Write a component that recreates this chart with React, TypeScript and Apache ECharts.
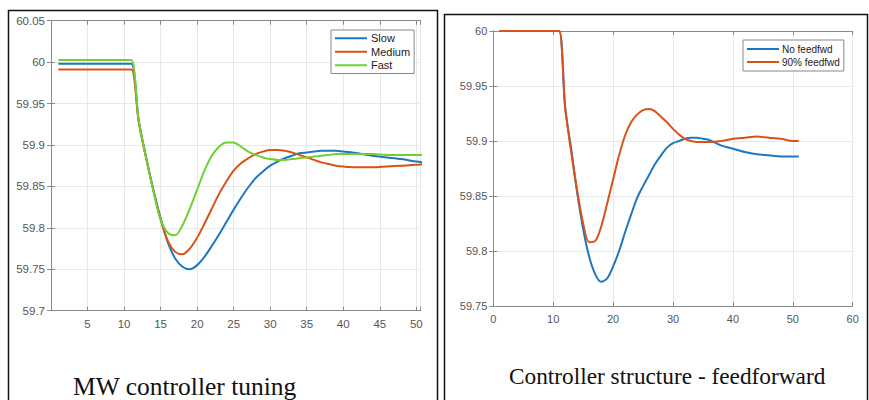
import React, { useEffect, useRef } from "react";
import * as echarts from "echarts";

// ---- Left panel: MW controller tuning ----
const xLeft = [1, 5, 10, 11, 12, 13, 14, 15, 16, 17, 18, 19, 20, 21, 22, 23, 24, 25, 26, 27, 28, 29, 30, 31, 32, 33, 34, 35, 36, 37, 38, 39, 40, 42, 44, 46, 48, 50, 51];
const slow = [59.998, 59.998, 59.998, 59.998, 59.93, 59.886, 59.846, 59.812, 59.782, 59.763, 59.753, 59.75, 59.755, 59.765, 59.778, 59.792, 59.807, 59.822, 59.836, 59.849, 59.86, 59.868, 59.875, 59.88, 59.884, 59.887, 59.89, 59.891, 59.892, 59.893, 59.893, 59.893, 59.892, 59.89, 59.887, 59.885, 59.883, 59.88, 59.879];
const medium = [59.991, 59.991, 59.991, 59.991, 59.928, 59.885, 59.846, 59.81, 59.784, 59.771, 59.768, 59.775, 59.788, 59.805, 59.823, 59.841, 59.856, 59.869, 59.878, 59.884, 59.889, 59.892, 59.894, 59.894, 59.893, 59.891, 59.888, 59.885, 59.882, 59.879, 59.877, 59.875, 59.874, 59.873, 59.873, 59.874, 59.875, 59.876, 59.877];
const fast = [60.0025, 60.0025, 60.0025, 60.0025, 59.93, 59.885, 59.845, 59.81, 59.794, 59.791, 59.803, 59.823, 59.846, 59.869, 59.887, 59.898, 59.903, 59.903, 59.898, 59.892, 59.888, 59.885, 59.883, 59.882, 59.882, 59.883, 59.884, 59.885, 59.886, 59.887, 59.888, 59.889, 59.889, 59.889, 59.889, 59.888, 59.888, 59.888, 59.888];

// ---- Right panel: Controller structure - feedforward ----
const xRight = [1, 5, 10, 11, 12, 13, 14, 15, 16, 17, 18, 19, 20, 21, 22, 23, 24, 25, 26, 27, 28, 29, 30, 31, 32, 33, 34, 35, 36, 38, 40, 42, 44, 46, 48, 50, 51];
const noFeedfwd = [60, 60, 60, 60, 59.93, 59.893, 59.853, 59.82, 59.795, 59.779, 59.772, 59.775, 59.786, 59.8, 59.817, 59.833, 59.848, 59.859, 59.869, 59.879, 59.887, 59.894, 59.898, 59.9, 59.902, 59.903, 59.903, 59.902, 59.901, 59.896, 59.893, 59.89, 59.888, 59.887, 59.886, 59.886, 59.886];
const feedfwd90 = [60, 60, 60, 60, 59.931, 59.89, 59.855, 59.825, 59.808, 59.809, 59.822, 59.843, 59.865, 59.887, 59.905, 59.917, 59.924, 59.928, 59.929, 59.927, 59.922, 59.917, 59.911, 59.906, 59.902, 59.9, 59.899, 59.899, 59.899, 59.9, 59.902, 59.903, 59.904, 59.903, 59.902, 59.9, 59.9];

const leftTicks = { min: 0, max: 50.6, interval: 5 };
const leftY = { min: 59.7, max: 60.05, interval: 0.05 };
const rightTicks = { min: 0, max: 60, interval: 10 };
const rightY = { min: 59.75, max: 60, interval: 0.05 };

const leftNames = ["Slow", "Medium", "Fast"];
const rightNames = ["No feedfwd", "90% feedfwd"];
const captions = ["MW controller tuning", "Controller structure - feedforward"];

const BLUE = "#1f77c0";
const ORANGE = "#d95319";
const GREEN = "#6fcf35";

const pairs = (xs: number[], ys: number[]) => xs.map((x, i) => [x, ys[i]]);

const axisLineStyle = { lineStyle: { color: "#8a8a8a", width: 1 } };
const tickStyle = { show: true, inside: true, length: 4, lineStyle: { color: "#8a8a8a" } };
const splitStyle = { show: true, lineStyle: { color: "#e8e8e8", width: 1 } };
const labelFont = { color: "#555", fontFamily: "Liberation Sans, Arial, sans-serif" };

export default function App() {
  const ref = useRef<HTMLDivElement>(null);
  useEffect(() => {
    if (!ref.current) return;
    const chart = echarts.init(ref.current, undefined, { renderer: "svg" });
    const mkX = (gi: number, t: any, pos: string, labels: boolean, fs: number, fmt?: any) => ({
      type: "value",
      gridIndex: gi,
      position: pos,
      min: t.min,
      max: t.max,
      interval: t.interval,
      axisLine: { show: true, ...axisLineStyle },
      axisTick: tickStyle,
      axisLabel: labels ? { show: true, margin: 7, fontSize: fs, ...labelFont, formatter: fmt } : { show: false },
      splitLine: labels ? splitStyle : { show: false },
    });
    const mkY = (gi: number, t: any, pos: string, labels: boolean, fs: number) => ({
      type: "value",
      gridIndex: gi,
      position: pos,
      min: t.min,
      max: t.max,
      interval: t.interval,
      axisLine: { show: true, ...axisLineStyle },
      axisTick: tickStyle,
      axisLabel: labels ? { show: true, margin: 6, fontSize: fs, ...labelFont } : { show: false },
      splitLine: labels ? splitStyle : { show: false },
    });
    const leftFmt = (v: number) => (Math.abs(v % 5) < 1e-6 && v > 0.5 ? String(v) : "");
    const lineSeries = (name: string, xs: number[], ys: number[], color: string, axis: number) => ({
      name,
      type: "line",
      xAxisIndex: axis,
      yAxisIndex: axis,
      data: pairs(xs, ys),
      showSymbol: false,
      symbol: "none",
      smooth: 0.3,
      lineStyle: { color, width: 2 },
      itemStyle: { color },
      clip: true,
    });
    chart.setOption({
      animation: false,
      backgroundColor: "#fff",
      grid: [
        { left: 51, top: 20.7, width: 369.7, height: 290 },
        { left: 493.3, top: 31, width: 359.4, height: 275 },
      ],
      xAxis: [
        mkX(0, leftTicks, "bottom", true, 11.5, leftFmt),
        mkX(0, leftTicks, "top", false, 11),
        mkX(1, rightTicks, "bottom", true, 11),
        mkX(1, rightTicks, "top", false, 11),
      ],
      yAxis: [
        mkY(0, leftY, "left", true, 11.5),
        mkY(0, leftY, "right", false, 11),
        mkY(1, rightY, "left", true, 11),
        mkY(1, rightY, "right", false, 11),
      ],
      legend: [
        {
          data: leftNames,
          orient: "vertical",
          left: 331,
          top: 30,
          icon: "rect",
          padding: [2, 4, 2, 4],
          itemGap: 1,
          itemWidth: 32,
          itemHeight: 2,
          borderColor: "#888",
          borderWidth: 1,
          backgroundColor: "#fff",
          textStyle: { fontSize: 11, lineHeight: 12.5, color: "#222", fontFamily: "Liberation Sans, Arial, sans-serif", padding: [0, 0, 0, -1] },
        },
        {
          data: rightNames,
          orient: "vertical",
          left: 743,
          top: 40,
          icon: "rect",
          padding: [3, 4, 3, 4],
          itemGap: 1,
          itemWidth: 32,
          itemHeight: 2,
          borderColor: "#888",
          borderWidth: 1,
          backgroundColor: "#fff",
          textStyle: { fontSize: 10, lineHeight: 12, color: "#222", fontFamily: "Liberation Sans, Arial, sans-serif", padding: [0, 0, 0, -2] },
        },
      ],
      series: [
        lineSeries(leftNames[0], xLeft, slow, BLUE, 0),
        lineSeries(leftNames[1], xLeft, medium, ORANGE, 0),
        lineSeries(leftNames[2], xLeft, fast, GREEN, 0),
        lineSeries(rightNames[0], xRight, noFeedfwd, BLUE, 2),
        lineSeries(rightNames[1], xRight, feedfwd90, ORANGE, 2),
      ],
      graphic: [
        {
          type: "rect",
          shape: { x: 8.5, y: 10.5, width: 429, height: 400 },
          style: { fill: "none", stroke: "#111", lineWidth: 1.5 },
          silent: true,
        },
        {
          type: "rect",
          shape: { x: 444.5, y: 14.5, width: 423, height: 400 },
          style: { fill: "none", stroke: "#111", lineWidth: 1.5 },
          silent: true,
        },
        {
          type: "text",
          x: 73,
          y: 386,
          style: {
            text: captions[0],
            font: "25.5px 'Liberation Serif', 'Times New Roman', serif",
            fill: "#111",
            textVerticalAlign: "middle",
          },
          silent: true,
        },
        {
          type: "text",
          x: 509,
          y: 376,
          style: {
            text: captions[1],
            font: "23.3px 'Liberation Serif', 'Times New Roman', serif",
            fill: "#111",
            textVerticalAlign: "middle",
          },
          silent: true,
        },
      ],
    });
    return () => chart.dispose();
  }, []);
  return (
    <div
      ref={ref}
      style={{ position: "fixed", left: 0, top: 0, width: 869, height: 400, background: "#fff" }}
    />
  );
}
